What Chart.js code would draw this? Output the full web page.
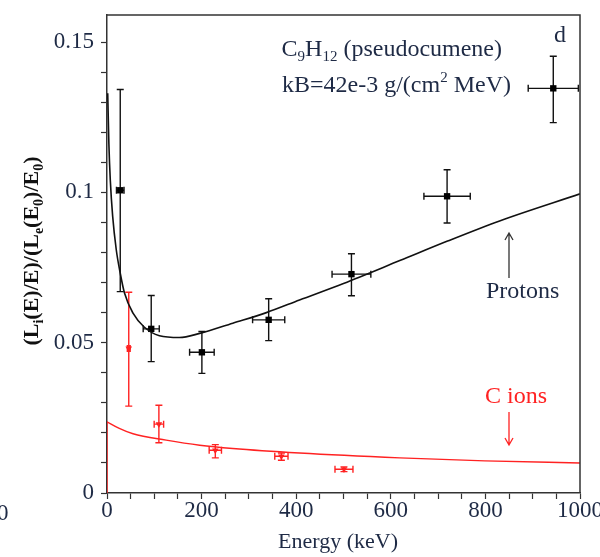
<!DOCTYPE html>
<html>
<head>
<meta charset="utf-8">
<script src="https://cdn.jsdelivr.net/npm/chart.js@4"></script>
<style>
  body { margin: 0; background: #fff; }
  canvas { display: block; }
</style>
</head>
<body>
<canvas id="grafico" width="600" height="557"></canvas>
<script>
// fitted curve, protons
const protonCurveE = [1.5, 4, 7, 12, 19.5, 28, 37, 55, 78, 111, 153, 196, 266, 337, 407, 500, 619, 720, 830, 1000];
const protonCurveY = [0.133, 0.116, 0.104, 0.092, 0.081, 0.0731, 0.0665, 0.0598, 0.0553, 0.0523, 0.0517, 0.0531, 0.0565, 0.0600, 0.0642, 0.0697, 0.0773, 0.0838, 0.0905, 0.0995];

// fitted curve, C ions
const carbonCurveE = [0, 26, 55, 125, 196, 266, 407, 619, 799, 1000];
const carbonCurveY = [0.0237, 0.0215, 0.0197, 0.0176, 0.0159, 0.0148, 0.0133, 0.0117, 0.0107, 0.0100];
const carbonEdgeE = [0, 0];
const carbonEdgeY = [0, 0.0237];

// measured points, protons
const protonE = [28, 93.5, 200.6, 341.8, 516.8, 719, 943.5];
const protonY = [0.1007, 0.0546, 0.0468, 0.0576, 0.0728, 0.0987, 0.1346];
const protonYLo = [0.067, 0.0437, 0.0398, 0.0507, 0.0656, 0.0898, 0.1232];
const protonYHi = [0.1342, 0.0657, 0.0537, 0.0646, 0.0796, 0.1075, 0.1453];
const protonEErr = [8, 17, 26, 34, 41, 49, 53];

// measured points, C ions
const carbonE = [46, 109.7, 229, 368.7, 501];
const carbonY = [0.0481, 0.0229, 0.0142, 0.0122, 0.0079];
const carbonYLo = [0.0289, 0.0167, 0.0117, 0.0109, 0.0071];
const carbonYHi = [0.0668, 0.0292, 0.0161, 0.0133, 0.0087];
const carbonEErr = [3, 10, 13, 14, 19];

const xTickLabels = [0, 200, 400, 600, 800, 1000];
const yTickLabels = ['0', '0.05', '0.1', '0.15'];

const SERIF = "'Liberation Serif', 'Times New Roman', serif";
const TEXT = '#1e2a45';
const RED = '#ff2222';
const AXIS = '#333333';

function pts(xs, ys) {
    return xs.map((x, i) => ({ x: x, y: ys[i] }));
}

// texto com subscritos / sobrescritos
function drawRich(ctx, parts, x, y, size, weight, color, align) {
    const fontFor = (kind) => weight + ' ' + (kind === 'n' ? size : Math.round(size * 0.62)) + 'px ' + SERIF;
    let total = 0;
    parts.forEach(p => {
        ctx.font = fontFor(p[1]);
        total += ctx.measureText(p[0]).width;
    });
    let cx = align === 'right' ? x - total : (align === 'center' ? x - total / 2 : x);
    ctx.fillStyle = color;
    ctx.textBaseline = 'alphabetic';
    ctx.textAlign = 'left';
    parts.forEach(p => {
        ctx.font = fontFor(p[1]);
        let dy = 0;
        if (p[1] === 'sub') dy = size * 0.22;
        if (p[1] === 'sup') dy = -size * 0.4;
        ctx.fillText(p[0], cx, y + dy);
        cx += ctx.measureText(p[0]).width;
    });
}

function drawErrors(ctx, xs, ys, xScale, yScale, es, los, his, color) {
    ctx.save();
    ctx.strokeStyle = color;
    ctx.lineWidth = 1.4;
    const cap = 3.5;
    xs.forEach((e, i) => {
        const px = xScale.getPixelForValue(e);
        const py = yScale.getPixelForValue(ys[i]);
        const x0 = xScale.getPixelForValue(e - es[i]);
        const x1 = xScale.getPixelForValue(e + es[i]);
        const y0 = yScale.getPixelForValue(los[i]);
        const y1 = yScale.getPixelForValue(his[i]);
        ctx.beginPath();
        ctx.moveTo(px, y0); ctx.lineTo(px, y1);
        ctx.moveTo(px - cap, y0); ctx.lineTo(px + cap, y0);
        ctx.moveTo(px - cap, y1); ctx.lineTo(px + cap, y1);
        ctx.moveTo(x0, py); ctx.lineTo(x1, py);
        ctx.moveTo(x0, py - cap); ctx.lineTo(x0, py + cap);
        ctx.moveTo(x1, py - cap); ctx.lineTo(x1, py + cap);
        ctx.stroke();
    });
    ctx.restore();
}

function arrow(ctx, x, yFrom, yTo, color) {
    const dir = yTo < yFrom ? 1 : -1;
    ctx.save();
    ctx.strokeStyle = color;
    ctx.lineWidth = 1.3;
    ctx.beginPath();
    ctx.moveTo(x, yFrom); ctx.lineTo(x, yTo);
    ctx.moveTo(x - 4, yTo + dir * 7); ctx.lineTo(x, yTo); ctx.lineTo(x + 4, yTo + dir * 7);
    ctx.stroke();
    ctx.restore();
}

const extras = {
    id: 'extras',
    beforeDatasetsDraw(chart) {
        const ctx = chart.ctx;
        const xs = chart.scales.x, ys = chart.scales.y;
        drawErrors(ctx, protonE, protonY, xs, ys, protonEErr, protonYLo, protonYHi, '#111');
        drawErrors(ctx, carbonE, carbonY, xs, ys, carbonEErr, carbonYLo, carbonYHi, RED);
    },
    afterDraw(chart) {
        const ctx = chart.ctx;
        const a = chart.chartArea;
        // moldura superior e direita
        ctx.save();
        ctx.strokeStyle = AXIS;
        ctx.lineWidth = 1.5;
        ctx.beginPath();
        ctx.moveTo(a.left, a.top); ctx.lineTo(a.right, a.top); ctx.lineTo(a.right, a.bottom);
        ctx.stroke();
        ctx.restore();

        // título do eixo y
        ctx.save();
        ctx.translate(31, 251);
        ctx.rotate(-Math.PI / 2);
        drawRich(ctx, [['(L', 'n'], ['i', 'sub'], ['(E)/E)/(L', 'n'], ['e', 'sub'], ['(E', 'n'], ['0', 'sub'], [')/E', 'n'], ['0', 'sub'], [')', 'n']],
            0, 7, 22, 'bold', '#111', 'center');
        ctx.restore();

        // título do eixo x
        drawRich(ctx, [['Energy (keV)', 'n']], 338, 548, 22, 'normal', TEXT, 'center');

        // rótulo cortado do painel vizinho
        drawRich(ctx, [['0', 'n']], -3, 520, 23, 'normal', TEXT, 'left');

        drawRich(ctx, [['C', 'n'], ['9', 'sub'], ['H', 'n'], ['12', 'sub'], [' (pseudocumene)', 'n']], 502, 56, 24, 'normal', TEXT, 'right');
        drawRich(ctx, [['kB=42e-3 g/(cm', 'n'], ['2', 'sup'], [' MeV)', 'n']], 511, 92, 24, 'normal', TEXT, 'right');
        drawRich(ctx, [['d', 'n']], 554, 42, 24, 'normal', TEXT, 'left');

        drawRich(ctx, [['Protons', 'n']], 486, 298, 24, 'normal', TEXT, 'left');
        arrow(ctx, 509, 278, 233, '#333');

        drawRich(ctx, [['C ions', 'n']], 485, 403, 24, 'normal', RED, 'left');
        arrow(ctx, 509, 412, 445, RED);
    }
};

new Chart(document.getElementById('grafico'), {
    type: 'scatter',
    data: {
        datasets: [
            {
                label: 'Protons fit',
                data: pts(protonCurveE, protonCurveY),
                showLine: true,
                borderColor: '#111',
                borderWidth: 1.6,
                pointRadius: 0,
                cubicInterpolationMode: 'monotone',
            },
            {
                label: 'C ions fit',
                data: pts(carbonCurveE, carbonCurveY),
                showLine: true,
                borderColor: RED,
                borderWidth: 1.4,
                pointRadius: 0,
                cubicInterpolationMode: 'monotone',
            },
            {
                label: 'C ions edge',
                data: pts(carbonEdgeE, carbonEdgeY),
                showLine: true,
                borderColor: RED,
                borderWidth: 1.4,
                pointRadius: 0,
            },
            {
                label: 'Protons',
                data: pts(protonE, protonY),
                pointStyle: 'rect',
                pointRadius: 4.5,
                backgroundColor: '#000',
                borderColor: '#000',
                borderWidth: 0,
            },
            {
                label: 'C ions',
                data: pts(carbonE, carbonY),
                pointStyle: 'triangle',
                rotation: 180,
                pointRadius: 3.8,
                backgroundColor: RED,
                borderColor: RED,
                borderWidth: 0,
            },
        ],
    },
    options: {
        responsive: false,
        animation: false,
        layout: {
            padding: { left: 0, right: 20, top: 15, bottom: 0 },
        },
        plugins: {
            legend: { display: false },
            tooltip: { enabled: false },
        },
        scales: {
            x: {
                type: 'linear',
                min: 0,
                max: 1000,
                afterFit: function(scale) {
                    scale.height = 64;
                    scale.paddingLeft = 0;
                    scale.paddingRight = 0;
                },
                grid: {
                    drawOnChartArea: false,
                    tickLength: 6,
                    color: AXIS,
                    tickWidth: 1.2,
                },
                border: { color: AXIS, width: 1.5 },
                ticks: {
                    stepSize: 50,
                    autoSkip: false,
                    maxRotation: 0,
                    padding: 0,
                    color: TEXT,
                    font: { family: SERIF, size: 23, lineHeight: 1 },
                    callback: function(value) {
                        return xTickLabels.includes(value) ? String(value) : '';
                    }
                }
            },
            y: {
                type: 'linear',
                min: 0,
                max: 0.159,
                afterFit: function(scale) {
                    scale.width = 107;
                    scale.paddingTop = 0;
                    scale.paddingBottom = 0;
                },
                afterBuildTicks: function(scale) {
                    scale.ticks = scale.ticks.filter(t => Math.abs(t.value * 100 - Math.round(t.value * 100)) < 1e-6);
                },
                grid: {
                    drawOnChartArea: false,
                    tickLength: 6,
                    color: AXIS,
                    tickWidth: 1.2,
                },
                border: { color: AXIS, width: 1.5 },
                ticks: {
                    stepSize: 0.01,
                    autoSkip: false,
                    padding: 7,
                    color: TEXT,
                    font: { family: SERIF, size: 23 },
                    callback: function(value) {
                        const n = Math.round(value * 100);
                        return n % 5 === 0 ? yTickLabels[n / 5] : '';
                    }
                }
            }
        }
    },
    plugins: [extras]
});
</script>
</body>
</html>
